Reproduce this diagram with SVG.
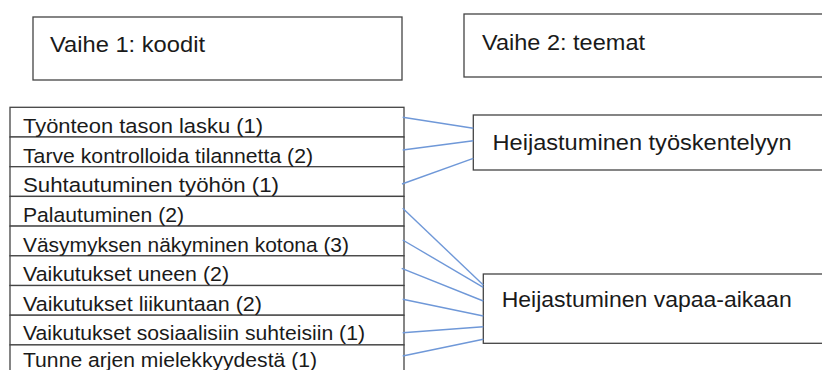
<svg xmlns="http://www.w3.org/2000/svg" width="822" height="370" viewBox="0 0 822 370">
<style>
.box{fill:#fff;stroke:#444;stroke-width:1.3}
.t{font-family:"Liberation Sans",Arial,sans-serif;fill:#1a1a1a}
.h{font-size:22.5px}
.r{font-size:20.5px}
.c{stroke:#6f98d8;stroke-width:1.4;fill:none}
</style>
<rect width="822" height="370" fill="#fff"/>
<g id="vaihe1">
<rect class="box" x="33" y="17" width="369" height="63"/>
<text class="t h" x="50" y="51.5" textLength="155" lengthAdjust="spacingAndGlyphs">Vaihe 1: koodit</text>
</g>
<g id="vaihe2">
<rect class="box" x="464" y="14" width="370" height="63"/>
<text class="t h" x="482" y="49.5" textLength="163" lengthAdjust="spacingAndGlyphs">Vaihe 2: teemat</text>
</g>
<g id="koodit">
<rect class="box" x="10" y="107.3" width="394" height="29.7"/>
<rect class="box" x="10" y="137" width="394" height="29.7"/>
<rect class="box" x="10" y="166.7" width="394" height="29.7"/>
<rect class="box" x="10" y="196.4" width="394" height="29.7"/>
<rect class="box" x="10" y="226.1" width="394" height="29.7"/>
<rect class="box" x="10" y="255.8" width="394" height="29.7"/>
<rect class="box" x="10" y="285.5" width="394" height="29.7"/>
<rect class="box" x="10" y="315.2" width="394" height="29.7"/>
<rect class="box" x="10" y="344.9" width="394" height="29.7"/>
</g>
<g id="k1"><text class="t r" x="23" y="133" textLength="240" lengthAdjust="spacingAndGlyphs">Työnteon tason lasku (1)</text></g>
<g id="k2"><text class="t r" x="23" y="162.5" textLength="290" lengthAdjust="spacingAndGlyphs">Tarve kontrolloida tilannetta (2)</text></g>
<g id="k3"><text class="t r" x="23" y="192" textLength="256" lengthAdjust="spacingAndGlyphs">Suhtautuminen työhön (1)</text></g>
<g id="k4"><text class="t r" x="23" y="221.5" textLength="161" lengthAdjust="spacingAndGlyphs">Palautuminen (2)</text></g>
<g id="k5"><text class="t r" x="23" y="251.5" textLength="326" lengthAdjust="spacingAndGlyphs">Väsymyksen näkyminen kotona (3)</text></g>
<g id="k6"><text class="t r" x="23" y="281" textLength="206" lengthAdjust="spacingAndGlyphs">Vaikutukset uneen (2)</text></g>
<g id="k7"><text class="t r" x="23" y="310.5" textLength="239" lengthAdjust="spacingAndGlyphs">Vaikutukset liikuntaan (2)</text></g>
<g id="k8"><text class="t r" x="23" y="340" textLength="342" lengthAdjust="spacingAndGlyphs">Vaikutukset sosiaalisiin suhteisiin (1)</text></g>
<g id="k9"><text class="t r" x="23" y="366.5" textLength="294" lengthAdjust="spacingAndGlyphs">Tunne arjen mielekkyydestä (1)</text></g>
<g id="teema1">
<rect class="box" x="473.3" y="115" width="360" height="55"/>
<text class="t h" x="492.5" y="150" textLength="299" lengthAdjust="spacingAndGlyphs">Heijastuminen työskentelyyn</text>
</g>
<g id="teema2">
<rect class="box" x="483.3" y="274" width="360" height="69.3"/>
<text class="t h" x="501.7" y="307" textLength="290" lengthAdjust="spacingAndGlyphs">Heijastuminen vapaa-aikaan</text>
</g>
<g id="connectors">
<line class="c" x1="402.7" y1="117.3" x2="473.3" y2="128.3"/>
<line class="c" x1="402.7" y1="150" x2="473.3" y2="140.7"/>
<line class="c" x1="402" y1="184" x2="473.3" y2="158.3"/>
<line class="c" x1="402.7" y1="208.3" x2="483.3" y2="285"/>
<line class="c" x1="402.7" y1="240" x2="483.3" y2="287.3"/>
<line class="c" x1="401.7" y1="268.3" x2="483.3" y2="301"/>
<line class="c" x1="402.7" y1="299.3" x2="483.3" y2="316"/>
<line class="c" x1="402.7" y1="332.7" x2="483.3" y2="326.7"/>
<line class="c" x1="402.7" y1="356" x2="483.3" y2="339.3"/>
</g>
</svg>
